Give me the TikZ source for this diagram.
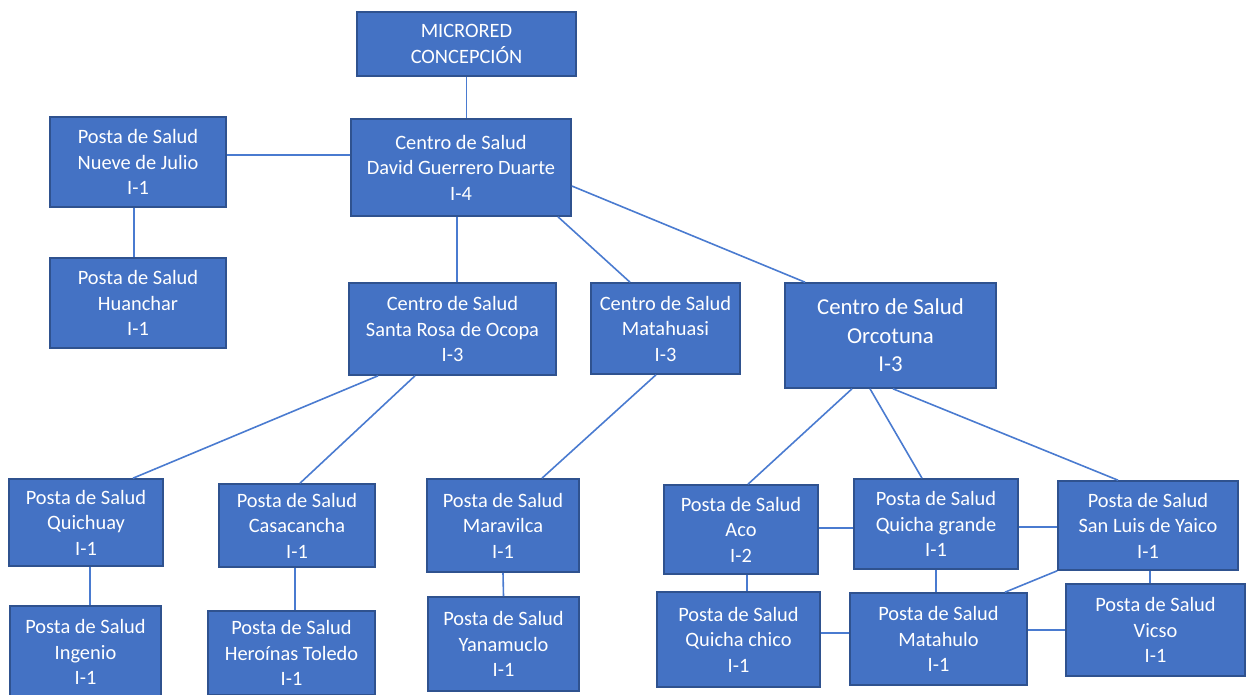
\documentclass[tikz,border=0pt]{standalone}
\usepackage{fontspec}
\setmainfont{Carlito}
\usetikzlibrary{calc}
\definecolor{cajaazul}{HTML}{4472C4}
\definecolor{bordeazul}{HTML}{2F528F}
\definecolor{lineaazul}{HTML}{4A7BD0}

\begin{document}
\begin{tikzpicture}[x=0.5pt,y=-0.5pt,
  block/.style={rectangle, draw=bordeazul, fill=cajaazul, text=white, line width=0.8pt, align=center, inner sep=0pt, font=\fontsize{10.2}{12.75}\selectfont},
  caja/.style 2 args={minimum width=#1*0.5pt, minimum height=#2*0.5pt},
  enlace/.style={draw=lineaazul, line width=0.8pt}]
\clip (0,0) rectangle (1254,695);
\useasboundingbox (0,0) rectangle (1254,695);
% red y centros
\draw (466.5,44) node[block,caja={219}{64}] (mred) {MICRORED\\CONCEPCIÓN};
\draw (461,167.5) node[block,caja={220}{97}] (cdgd) {Centro de Salud\\David Guerrero Duarte\\I-4};
\draw (138,162) node[block,caja={176}{90}] (pnueve) {Posta de Salud\\Nueve de Julio\\I-1};
\draw (138,303) node[block,caja={176}{90}] (phuan) {Posta de Salud\\Huanchar\\I-1};
\draw (452.5,329) node[block,caja={207}{92}] (csrosa) {Centro de Salud\\Santa Rosa de Ocopa\\I-3};
\draw (665.5,328.5) node[block,caja={149}{91}] (cmata) {Centro de Salud\\Matahuasi\\I-3};
\draw (890.5,335.5) node[block,caja={211}{105},font=\fontsize{11.4}{14.25}\selectfont] (corco) {Centro de Salud\\Orcotuna\\I-3};
% postas
\draw (86,522.5) node[block,caja={154}{87}] (pquich) {Posta de Salud\\Quichuay\\I-1};
\draw (85.5,652) node[block,caja={151}{92}] (pinge) {Posta de Salud\\Ingenio\\I-1};
\draw (297,525.5) node[block,caja={156}{83}] (pcasa) {Posta de Salud\\Casacancha\\I-1};
\draw (291.5,653) node[block,caja={167}{84}] (phero) {Posta de Salud\\Heroínas Toledo\\I-1};
\draw (503,525.5) node[block,caja={152}{93}] (pmara) {Posta de Salud\\Maravilca\\I-1};
\draw (503.5,644) node[block,caja={151}{94}] (pyana) {Posta de Salud\\Yanamuclo\\I-1};
\draw (741,529.5) node[block,caja={154}{89}] (paco) {Posta de Salud\\Aco\\I-2};
\draw (936,524) node[block,caja={164}{90}] (pqgra) {Posta de Salud\\Quicha grande\\I-1};
\draw (1148,525.5) node[block,caja={180}{89}] (pslui) {Posta de Salud\\San Luis de Yaico\\I-1};
\draw (738.5,639.5) node[block,caja={163}{95}] (pqchi) {Posta de Salud\\Quicha chico\\I-1};
\draw (938.5,639) node[block,caja={177}{92}] (pmatu) {Posta de Salud\\Matahulo\\I-1};
\draw (1155.5,630) node[block,caja={179}{92}] (pvics) {Posta de Salud\\Vicso\\I-1};
% enlaces
\draw[enlace] (mred.south) -- (mred.south |- cdgd.north);
\draw[enlace] ($(pnueve.east)+(0,-7)$) -- ($(cdgd.west)+(0,-12.5)$);
\draw[enlace] ($(pnueve.south)+(-4,0)$) -- ($(phuan.north)+(-4,0)$);
\draw[enlace] ($(cdgd.south)+(-4,0)$) -- ($(csrosa.north)+(4.5,0)$);
\draw[enlace] ($(cdgd.south)+(97,0)$) -- ($(cmata.north)+(-35.5,0)$);
\draw[enlace] ($(cdgd.east)+(0,18.5)$) -- ($(corco.north)+(-85.5,0)$);
\draw[enlace] ($(csrosa.south)+(-74.5,0)$) -- ($(pquich.north)+(47,0)$);
\draw[enlace] ($(csrosa.south)+(-37.5,0)$) -- ($(pcasa.north)+(3,0)$);
\draw[enlace] ($(cmata.south)+(-9.5,0)$) -- ($(pmara.north)+(39,0)$);
\draw[enlace] ($(pquich.south)+(4,0)$) -- ($(pinge.north)+(4.5,0)$);
\draw[enlace] ($(pcasa.south)+(-2,0)$) -- ($(phero.north)+(3.5,0)$);
\draw[enlace] (pmara.south) -- (pyana.north);
\draw[enlace] ($(corco.south)+(-38.5,0)$) -- ($(paco.north)+(7,0)$);
\draw[enlace] ($(corco.south)+(-20.5,0)$) -- ($(pqgra.north)+(-14,0)$);
\draw[enlace] ($(corco.south)+(2.5,0)$) -- ($(pslui.north)+(-30,0)$);
\draw[enlace] ($(paco.east)+(0,-1.5)$) -- ($(pqgra.west)+(0,4)$);
\draw[enlace] ($(pqgra.east)+(0,3)$) -- ($(pslui.west)+(0,1.5)$);
\draw[enlace] ($(paco.south)+(6,0)$) -- ($(pqchi.north)+(8.5,0)$);
\draw[enlace] (pqgra.south) -- ($(pmatu.north)+(-2.5,0)$);
\draw[enlace] (pslui.south west) -- ($(pmatu.north)+(66.5,0)$);
\draw[enlace] ($(pslui.south)+(2,0)$) -- ($(pvics.north)+(-5.5,0)$);
\draw[enlace] ($(pqchi.east)+(0,-6.5)$) -- ($(pmatu.west)+(0,-6)$);
\draw[enlace] ($(pmatu.east)+(0,-9)$) -- (pvics.west);
\end{tikzpicture}
\end{document}
